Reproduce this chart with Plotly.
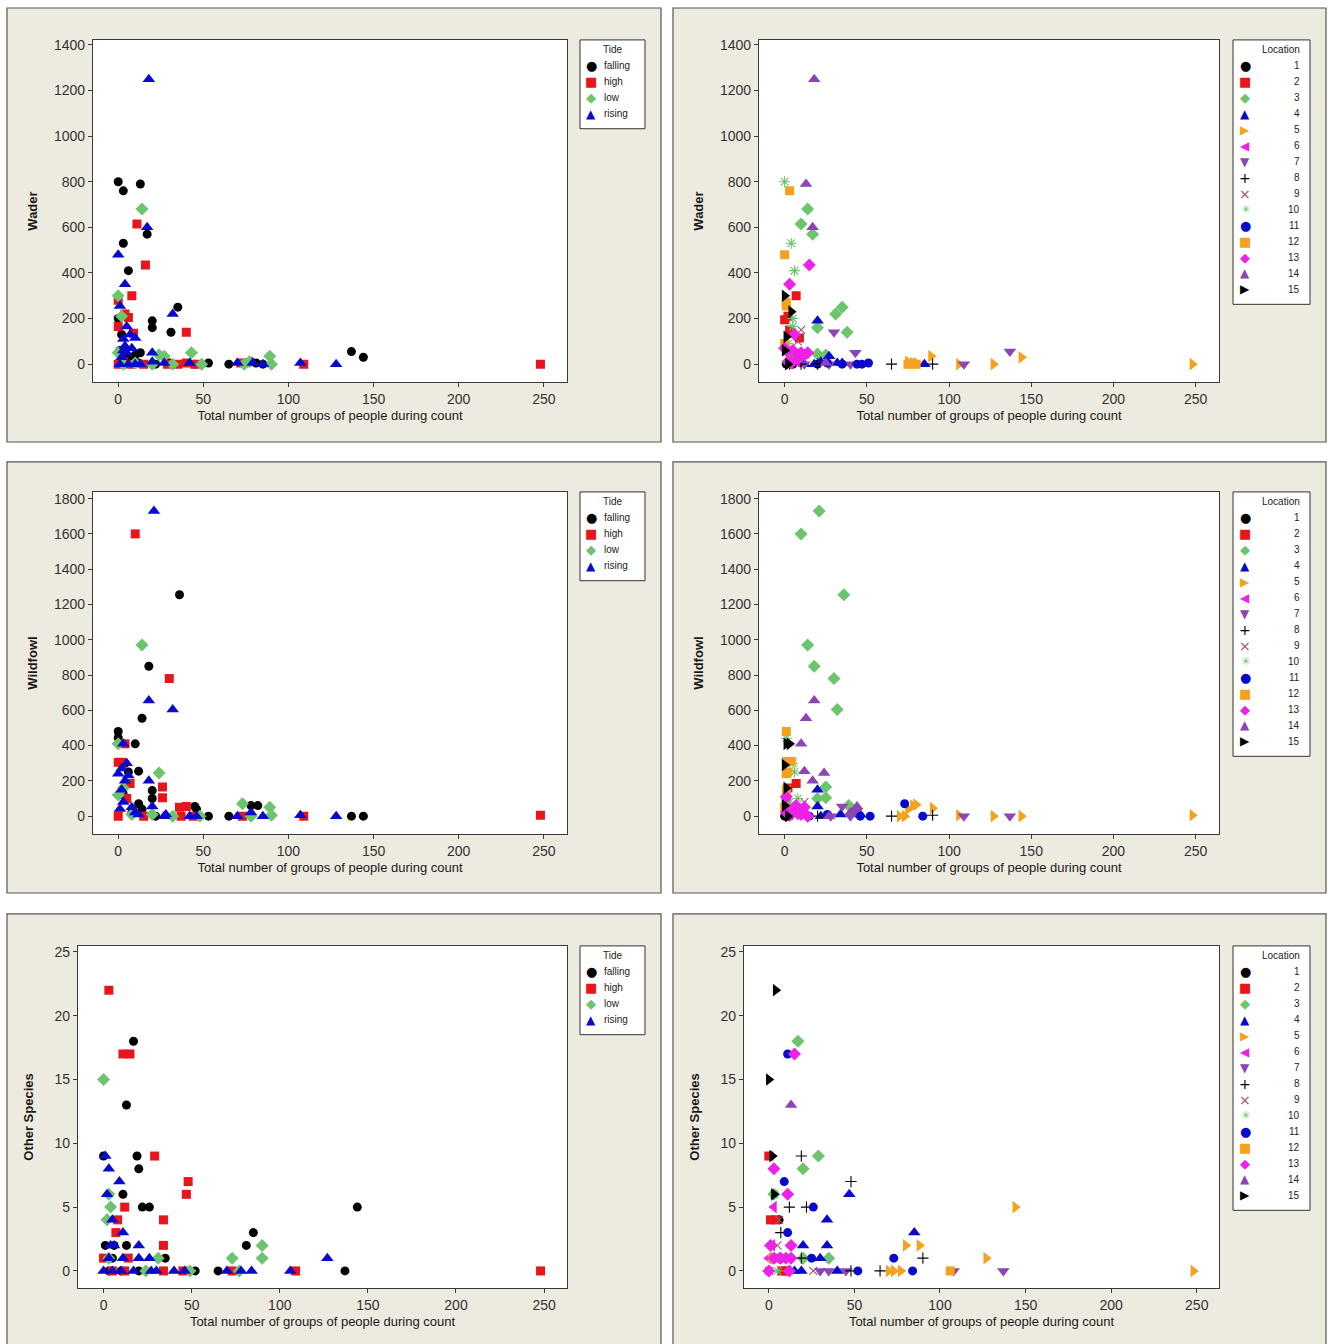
import plotly.graph_objects as go

W, H = 1331, 1344

# ---------------- DATA (x = total number of groups of people, y = count) ----------------
# Wader by Tide
wader_falling = [(0,800),(3,760),(13,790),(3,530),(17,570),(6,410),(20,190),(20,160),(31,140),(35,250),
                 (0,200),(2,130),(1,60),(5,30),(13,50),(10,40),(8,20),(53,5),(65,0),(78,10),(81,5),(85,0),
                 (137,55),(144,30),(22,0),(30,5),(45,0),(75,5),(4,0),(12,5)]
wader_high = [(11,615),(16,435),(0,280),(0,165),(8,300),(4,220),(6,205),(9,135),(40,140),(248,0),(109,0),
              (35,0),(40,5),(15,0),(8,0),(0,0),(3,10),(29,0),(72,5),(45,0)]
wader_low = [(14,680),(0,300),(2,210),(0,50),(43,50),(89,35),(90,0),(24,40),(27,35),(20,0),(32,0),(74,0),
             (49,0),(3,0),(10,5),(77,10)]
wader_rising = [(18,1250),(0,480),(17,600),(4,350),(1,255),(32,220),(5,165),(7,130),(3,110),(10,115),(4,80),
                (5,50),(2,30),(20,50),(20,10),(27,5),(42,5),(70,5),(79,5),(85,0),(107,5),(128,0),(1,0),(6,0),
                (10,0),(13,0),(8,70),(3,60)]

# Wader by Location
wader_loc1 = [(1,0),(5,0),(20,0)]
wader_loc2 = [(0,195),(7,300),(9,115),(2,210),(3,150)]
wader_loc3 = [(14,680),(10,615),(17,570),(35,250),(31,220),(38,140),(20,160),(20,45),(25,40)]
wader_loc4 = [(20,190),(27,35),(22,10),(32,5),(85,0),(35,5),(12,0),(18,0)]
wader_loc5 = [(89,35),(144,30),(106,0),(127,0),(248,0),(75,10),(78,5),(80,5)]
wader_loc6 = [(5,20),(8,10),(3,40)]
wader_loc7 = [(137,55),(30,140),(43,50),(109,0),(40,0),(27,0),(12,0)]
wader_loc8 = [(65,0),(90,0),(20,0),(10,0),(3,0)]
wader_loc9 = [(10,150),(8,100),(5,30)]
wader_loc10 = [(0,800),(4,530),(6,410),(5,200),(5,165),(2,90),(3,20)]
wader_loc11 = [(51,5),(47,0),(35,0),(26,5),(44,0)]
wader_loc12 = [(3,760),(0,480),(1,270),(1,255),(0,90),(75,0),(80,0)]
wader_loc13 = [(15,435),(3,350),(6,130),(0,70),(5,60),(10,50),(12,40),(8,20),(2,10),(14,50),(4,5)]
wader_loc14 = [(18,1250),(13,790),(17,600),(25,5)]
wader_loc15 = [(0,300),(4,230),(1,120),(0,60),(2,0)]

# Wildfowl by Tide
wild_falling = [(36,1255),(18,850),(14,555),(0,480),(0,445),(10,410),(12,255),(20,145),(20,100),(4,300),
                (6,250),(12,70),(14,40),(45,55),(46,40),(53,0),(65,0),(78,60),(82,60),(137,0),(144,0),
                (22,0),(3,120),(8,20)]
wild_high = [(10,1600),(30,780),(4,410),(0,305),(2,305),(7,185),(26,165),(26,105),(5,100),(36,50),(40,55),
             (37,0),(248,5),(109,0),(73,0),(0,0),(15,0),(44,0)]
wild_low = [(14,970),(24,245),(0,410),(0,120),(3,160),(73,70),(89,50),(90,5),(32,0),(48,0),(78,0),(20,10),(8,10)]
wild_rising = [(21,1730),(18,655),(32,605),(3,410),(0,240),(2,270),(5,300),(4,200),(18,200),(6,230),(20,55),
               (2,150),(3,80),(8,50),(10,20),(28,10),(27,0),(42,0),(46,0),(70,0),(78,20),(85,0),(107,5),
               (128,0),(1,40),(12,10)]

# Wildfowl by Location
wild_loc1 = [(0,0),(3,0)]
wild_loc2 = [(7,185),(2,160),(1,90)]
wild_loc3 = [(21,1730),(10,1600),(36,1255),(14,970),(18,850),(30,780),(32,605),(25,165),(25,105),(20,100),(39,60)]
wild_loc4 = [(20,150),(20,55),(34,10),(46,10),(22,0)]
wild_loc5 = [(75,40),(78,60),(80,65),(90,45),(106,5),(127,0),(144,0),(248,5),(70,0),(73,0)]
wild_loc6 = [(2,20),(5,40)]
wild_loc7 = [(35,55),(109,0),(137,0),(28,0),(40,0),(44,30)]
wild_loc8 = [(65,0),(90,5),(20,0),(14,0)]
wild_loc9 = [(12,80),(9,30),(6,0)]
wild_loc10 = [(1,440),(5,300),(6,250),(8,100),(3,80),(2,40),(5,20)]
wild_loc11 = [(73,70),(84,0),(52,0),(46,0),(26,10),(15,0)]
wild_loc12 = [(1,480),(1,310),(4,310),(1,240),(2,250),(1,150),(0,50)]
wild_loc13 = [(1,110),(3,30),(5,20),(8,20),(10,10),(12,50),(7,60),(3,5),(1,20),(14,0)]
wild_loc14 = [(18,655),(13,555),(10,410),(12,255),(17,200),(24,245),(44,55),(40,20),(27,0)]
wild_loc15 = [(1,410),(3,410),(0,290),(1,160),(0,60),(2,0)]

# Other Species by Tide
other_falling = [(17,18),(13,13),(0,9),(19,9),(20,8),(11,6),(22,5),(26,5),(13,2),(1,2),(6,2),(35,1),(81,2),
                 (85,3),(144,5),(137,0),(52,0),(65,0),(20,0),(5,1),(10,0),(3,0)]
other_high = [(3,22),(11,17),(15,17),(29,9),(48,7),(47,6),(12,5),(34,4),(8,4),(7,3),(34,2),(0,1),(14,1),
              (34,0),(73,0),(109,0),(248,0),(5,0),(12,0),(45,0)]
other_low = [(0,15),(4,5),(2,4),(3,6),(31,1),(73,1),(90,2),(90,1),(24,0),(49,0),(77,0),(3,1)]
other_rising = [(1,9),(3,8),(9,7),(2,6),(11,3),(5,4),(20,2),(4,2),(6,2),(3,1),(11,1),(20,1),(26,1),(127,1),
                (0,0),(5,0),(10,0),(17,0),(27,0),(30,0),(40,0),(46,0),(70,0),(78,0),(84,0),(106,0)]

# Other Species by Location
other_loc1 = [(6,4),(3,6)]
other_loc2 = [(0,9),(1,4),(4,4),(8,0),(10,0)]
other_loc3 = [(17,18),(29,9),(20,8),(35,1),(20,1),(3,6)]
other_loc4 = [(47,6),(34,4),(85,3),(20,2),(34,2),(30,1),(15,0),(19,0),(40,0)]
other_loc5 = [(144,5),(80,2),(88,2),(127,1),(248,0),(70,0),(73,0),(77,0)]
other_loc6 = [(3,5),(0,1),(2,2),(5,1)]
other_loc7 = [(108,0),(137,0),(30,0),(35,0),(45,0)]
other_loc8 = [(19,9),(48,7),(12,5),(22,5),(7,3),(90,1),(19,1),(65,0),(48,0)]
other_loc9 = [(6,4),(5,2),(7,1),(0,0),(9,1),(26,0)]
other_loc10 = [(3,6),(4,1),(5,0)]
other_loc11 = [(11,17),(9,7),(26,5),(11,3),(73,1),(84,0),(52,0),(25,1)]
other_loc12 = [(106,0),(2,1)]
other_loc13 = [(15,17),(3,8),(11,6),(13,2),(1,2),(3,1),(7,1),(10,1),(13,1),(0,0),(12,0)]
other_loc14 = [(13,13)]
other_loc15 = [(4,22),(0,15),(2,9),(3,6)]

tide_labels = ["falling", "high", "low", "rising"]
location_labels = [str(i) for i in range(1, 16)]

wader_tide = [wader_falling, wader_high, wader_low, wader_rising]
wild_tide = [wild_falling, wild_high, wild_low, wild_rising]
other_tide = [other_falling, other_high, other_low, other_rising]
wader_loc = [wader_loc1, wader_loc2, wader_loc3, wader_loc4, wader_loc5, wader_loc6, wader_loc7, wader_loc8,
             wader_loc9, wader_loc10, wader_loc11, wader_loc12, wader_loc13, wader_loc14, wader_loc15]
wild_loc = [wild_loc1, wild_loc2, wild_loc3, wild_loc4, wild_loc5, wild_loc6, wild_loc7, wild_loc8,
            wild_loc9, wild_loc10, wild_loc11, wild_loc12, wild_loc13, wild_loc14, wild_loc15]
other_loc = [other_loc1, other_loc2, other_loc3, other_loc4, other_loc5, other_loc6, other_loc7, other_loc8,
             other_loc9, other_loc10, other_loc11, other_loc12, other_loc13, other_loc14, other_loc15]

# ---------------- STYLES ----------------
BLACK, RED, GREEN, BLUE = "#000000", "#E8161B", "#6CC46C", "#0A0ACD"
ORANGE, MAGENTA, PURPLE, BROWN = "#F2A21E", "#EE22E6", "#8B45B5", "#A0506A"

tide_styles = [
    dict(symbol="circle", color=BLACK, size=9, glyph="●", gsize=13),
    dict(symbol="square", color=RED, size=9, glyph="■", gsize=13),
    dict(symbol="diamond", color=GREEN, size=10, glyph="◆", gsize=13),
    dict(symbol="triangle-up", color=BLUE, size=11, glyph="▲", gsize=12),
]
loc_styles = [
    dict(symbol="circle", color=BLACK, size=9, glyph="●", gsize=13),
    dict(symbol="square", color=RED, size=9, glyph="■", gsize=13),
    dict(symbol="diamond", color=GREEN, size=10, glyph="◆", gsize=13),
    dict(symbol="triangle-up", color=BLUE, size=11, glyph="▲", gsize=12),
    dict(symbol="triangle-right", color=ORANGE, size=11, glyph="▶", gsize=12),
    dict(symbol="triangle-left", color=MAGENTA, size=11, glyph="◀", gsize=12),
    dict(symbol="triangle-down", color=PURPLE, size=11, glyph="▼", gsize=12),
    dict(symbol="cross-thin", color=BLACK, size=8, line=True, glyph="+", gsize=14),
    dict(symbol="x-thin", color=BROWN, size=8, line=True, glyph="×", gsize=14),
    dict(symbol="asterisk", color=GREEN, size=9, line=True, glyph="✳", gsize=11),
    dict(symbol="circle", color=BLUE, size=9, glyph="●", gsize=13),
    dict(symbol="square", color=ORANGE, size=9, glyph="■", gsize=13),
    dict(symbol="diamond", color=MAGENTA, size=10, glyph="◆", gsize=13),
    dict(symbol="triangle-up", color=PURPLE, size=11, glyph="▲", gsize=12),
    dict(symbol="triangle-right", color=BLACK, size=11, glyph="▶", gsize=12),
]

FONT = "Liberation Sans"
SYMFONT = "DejaVu Sans"
BEIGE = "#EDEADF"

def px_x(p):
    return p / W

def px_y(p):
    return 1 - p / H

panels = [
    dict(data=wader_tide, labels=tide_labels, styles=tide_styles, title="Tide", ytitle="Wader",
         plot=(93, 567, 37, 380), frame=(7, 661, 5, 440), xr=[-14.8, 263.6], yr=[-79, 1422], ydt=200, ystand=13),
    dict(data=wader_loc, labels=location_labels, styles=loc_styles, title="Location", ytitle="Wader",
         plot=(759, 1219, 37, 380), frame=(673, 1326, 5, 440), xr=[-15.6, 264.2], yr=[-79, 1422], ydt=200, ystand=13),
    dict(data=wild_tide, labels=tide_labels, styles=tide_styles, title="Tide", ytitle="Wildfowl",
         plot=(93, 567, 490, 833), frame=(7, 661, 460, 892), xr=[-14.8, 263.6], yr=[-102, 1838], ydt=200, ystand=13),
    dict(data=wild_loc, labels=location_labels, styles=loc_styles, title="Location", ytitle="Wildfowl",
         plot=(759, 1219, 490, 833), frame=(673, 1326, 460, 892), xr=[-15.6, 264.2], yr=[-102, 1838], ydt=200, ystand=13),
    dict(data=other_tide, labels=tide_labels, styles=tide_styles, title="Tide", ytitle="Other Species",
         plot=(78, 567, 945, 1288), frame=(7, 661, 913, 1360), xr=[-14.5, 263], yr=[-1.35, 25.47], ydt=5, ystand=17),
    dict(data=other_loc, labels=location_labels, styles=loc_styles, title="Location", ytitle="Other Species",
         plot=(744, 1219, 945, 1288), frame=(673, 1326, 913, 1360), xr=[-14.5, 263], yr=[-1.35, 25.47], ydt=5, ystand=17),
]

fig = go.Figure()
shapes = []
annotations = []
layout = dict(
    width=W, height=H, margin=dict(l=0, r=0, t=0, b=0, pad=0),
    paper_bgcolor="white", plot_bgcolor="white", showlegend=False,
    font=dict(family=FONT, color="#222222"),
)

def ann(text, x, y, size, color="#222222", xanchor="center", family=FONT):
    annotations.append(dict(text=text, x=px_x(x), y=px_y(y), xref="paper", yref="paper",
                            xanchor=xanchor, yanchor="middle", showarrow=False,
                            font=dict(size=size, color=color, family=family)))

for i, p in enumerate(panels):
    n = i + 1
    xa = "x" if n == 1 else f"x{n}"
    ya = "y" if n == 1 else f"y{n}"
    l, r, t, b = p["plot"]
    fl, fr, ft, fb = p["frame"]
    shapes.append(dict(type="rect", xref="paper", yref="paper", x0=px_x(fl), x1=px_x(fr),
                       y0=px_y(fb), y1=px_y(ft), fillcolor=BEIGE, line=dict(color="#555555", width=1.2),
                       layer="below"))
    shapes.append(dict(type="rect", xref="paper", yref="paper", x0=px_x(l), x1=px_x(r),
                       y0=px_y(b), y1=px_y(t), fillcolor="white", line=dict(width=0), layer="below"))

    is_loc = p["title"] == "Location"
    for grp, lab, st in zip(p["data"], p["labels"], p["styles"]):
        xs = [q[0] for q in grp]
        ys = [q[1] for q in grp]
        if st.get("line"):
            mk = dict(symbol=st["symbol"], size=st["size"], color=st["color"],
                      line=dict(color=st["color"], width=1.1))
        else:
            mk = dict(symbol=st["symbol"], size=st["size"], color=st["color"], line=dict(width=0))
        fig.add_trace(go.Scatter(x=xs, y=ys, mode="markers", name=lab, marker=mk,
                                 xaxis=xa, yaxis=ya, showlegend=False))

    axkey_x = "xaxis" if n == 1 else f"xaxis{n}"
    axkey_y = "yaxis" if n == 1 else f"yaxis{n}"
    layout[axkey_x] = dict(
        domain=[px_x(l), px_x(r)], anchor=ya, range=p["xr"], tickmode="linear", tick0=0, dtick=50,
        showgrid=False, zeroline=False, showline=True, mirror=True, linecolor="#3a3a3a", linewidth=1.2,
        ticks="outside", ticklen=4, tickcolor="#3a3a3a", tickfont=dict(size=14, color="#333333"),
        title=dict(text="Total number of groups of people during count", font=dict(size=13, color="#1a1a1a"),
                   standoff=4),
    )
    layout[axkey_y] = dict(
        domain=[px_y(b), px_y(t)], anchor=xa, range=p["yr"], tickmode="linear", tick0=0, dtick=p["ydt"],
        showgrid=False, zeroline=False, showline=True, mirror=True, linecolor="#3a3a3a", linewidth=1.2,
        ticks="outside", ticklen=4, tickcolor="#3a3a3a", tickfont=dict(size=14, color="#333333"),
        title=dict(text=f"<b>{p['ytitle']}</b>", font=dict(size=13, color="#1a1a1a"), standoff=p["ystand"]),
    )

    # legend box (shape + text annotations)
    nitems = len(p["labels"])
    if is_loc:
        bx0, bx1 = 1233, 1310
    else:
        bx0, bx1 = 580, 645
    by0 = t
    by1 = t + 26 + 16 * nitems - 1
    shapes.append(dict(type="rect", xref="paper", yref="paper", x0=px_x(bx0), x1=px_x(bx1),
                       y0=px_y(by1), y1=px_y(by0), fillcolor="white", line=dict(color="#333333", width=1)))
    if is_loc:
        ann(p["title"], bx1 - 8, t + 10, 10, xanchor="right")
    else:
        ann(p["title"], (bx0 + bx1) / 2, t + 10, 10)
    for k, (lab, st) in enumerate(zip(p["labels"], p["styles"])):
        yy = t + 26 + 16 * k
        sx = bx0 + 12 if is_loc else bx0 + 11
        ann(st["glyph"], sx, yy, st["gsize"], color=st["color"], family=SYMFONT)
        if is_loc:
            ann(lab, bx1 - 8, yy, 10, xanchor="right")
        else:
            ann(lab, bx0 + 22, yy, 10, xanchor="left")

layout["shapes"] = shapes
layout["annotations"] = annotations
fig.update_layout(**layout)
fig.write_html("out.html")
